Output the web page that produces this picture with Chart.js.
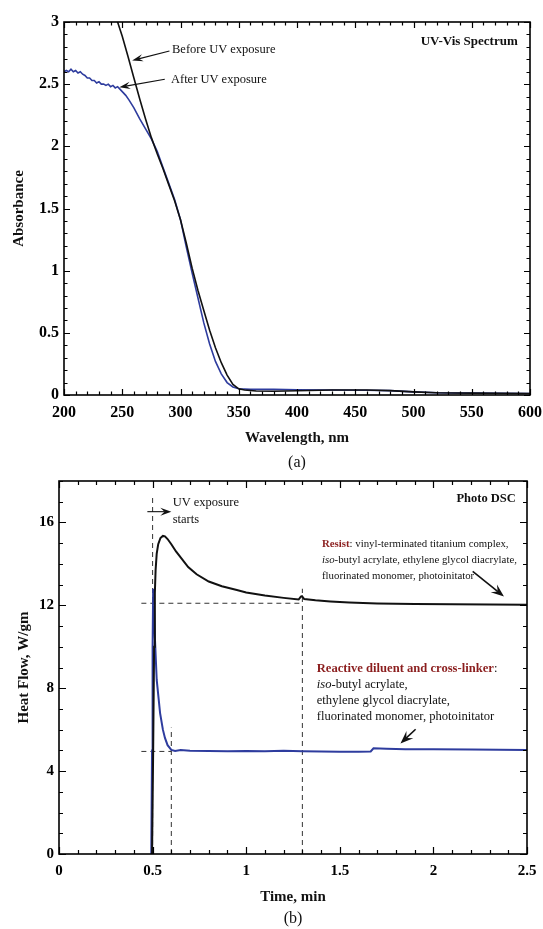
<!DOCTYPE html>
<html><head><meta charset="utf-8">
<script src="https://cdn.jsdelivr.net/npm/chart.js@4/dist/chart.umd.min.js"></script>
<style>
html,body{margin:0;padding:0;background:#fff;width:543px;height:929px;overflow:hidden}
canvas{position:absolute;left:0}
#c1{top:0}
#c2{top:470px}
</style></head><body>
<canvas id="c1" width="543" height="470" style="width:543px;height:470px"></canvas>
<canvas id="c2" width="543" height="459" style="width:543px;height:459px"></canvas>
<script>
// ---------------- (a) UV-Vis spectrum data ----------------
const uvBeforeWavelength = [240,246,250,255,260,265,270,275,280,285,290,295,300,305,310,315,320,325,330,335,340,345,350,355,365,380,400,430,460,480,500,520,550,600];
const uvBeforeAbsorbance = [3.22,3.00,2.885,2.72,2.55,2.38,2.22,2.07,1.94,1.82,1.69,1.56,1.41,1.22,1.02,0.84,0.68,0.52,0.38,0.26,0.16,0.085,0.05,0.04,0.032,0.030,0.034,0.040,0.040,0.035,0.025,0.018,0.015,0.012];
const uvAfterWavelength = [200,202,204,206,208,210,212,214,216,218,220,222,224,226,228,230,232,234,236,238,240,242,244,246,248,250,253,256,260,265,270,275,280,285,290,295,300,305,310,315,320,325,330,335,340,345,350,360,380,400,430,460,480,500,520,550,600];
const uvAfterAbsorbance = [2.60,2.61,2.60,2.62,2.60,2.61,2.59,2.60,2.58,2.57,2.55,2.55,2.53,2.53,2.51,2.52,2.50,2.50,2.49,2.50,2.48,2.49,2.47,2.48,2.46,2.44,2.41,2.37,2.31,2.22,2.14,2.06,1.96,1.83,1.70,1.57,1.41,1.19,0.98,0.78,0.58,0.41,0.27,0.17,0.10,0.065,0.05,0.045,0.045,0.042,0.040,0.038,0.035,0.025,0.018,0.015,0.012];
const uvXTicks = [200,250,300,350,400,450,500,550,600];
const uvYTicks = [0,0.5,1,1.5,2,2.5,3];
const uvYTickLabels = ['0','0.5','1','1.5','2','2.5','3'];

// ---------------- (b) Photo DSC data ----------------
const dscResistTime = [0.497,0.503,0.508,0.512,0.516,0.522,0.53,0.542,0.555,0.566,0.58,0.6,0.625,0.655,0.69,0.735,0.8,0.87,0.95,1.0,1.1,1.2,1.28,1.292,1.298,1.31,1.37,1.45,1.55,1.7,1.9,2.1,2.3,2.5];
const dscResistHeat = [0,5,10,12.6,13.7,14.5,14.95,15.25,15.35,15.33,15.2,14.95,14.6,14.25,13.85,13.5,13.15,12.92,12.74,12.62,12.47,12.36,12.28,12.42,12.44,12.3,12.24,12.19,12.14,12.09,12.06,12.05,12.04,12.03];
const dscReactiveTime = [0.493,0.497,0.5,0.503,0.507,0.512,0.522,0.54,0.555,0.566,0.58,0.6,0.62,0.65,0.7,0.8,0.9,1.0,1.1,1.2,1.3,1.4,1.5,1.6,1.665,1.68,1.75,1.85,2.0,2.2,2.35,2.5];
const dscReactiveHeat = [0,5,10,12.8,12.0,10.5,8.4,6.8,6.0,5.6,5.25,5.02,4.97,5.02,4.98,4.97,4.96,4.97,4.96,4.98,4.96,4.95,4.94,4.93,4.95,5.1,5.08,5.06,5.05,5.04,5.03,5.02];
const dscGuideX = [[0.5,0.5],[0.44,1.3],[1.3,1.3],[0.44,0.6],[0.6,0.6]];
const dscGuideY = [[0,17.2],[12.1,12.1],[0,12.8],[4.95,4.95],[0,6.1]];
const dscXTicks = [0,0.5,1,1.5,2,2.5];
const dscXTickLabels = ['0','0.5','1','1.5','2','2.5'];
const dscYTicks = [0,4,8,12,16];

const FONT = "'Liberation Serif','Times New Roman',serif";
const BLUE = '#2e3c9e';
const DARKRED = '#8b1e1e';
Chart.defaults.font.family = FONT;
Chart.defaults.color = '#000';

function pts(xs, ys){ return xs.map((x,i)=>({x:x, y:ys[i]})); }

function frameTicks(minorX, minorY, majLen, minLen){
  return {
    id:'frameTicks',
    afterDatasetsDraw(chart){
      const ctx = chart.ctx, a = chart.chartArea, xs = chart.scales.x, ys = chart.scales.y;
      const xMaj = xs.ticks.map(t=>t.value), yMaj = ys.ticks.map(t=>t.value);
      ctx.save();
      ctx.strokeStyle = '#000'; ctx.lineWidth = 1.2;
      const nX = Math.round((xs.max - xs.min)/minorX);
      for (let i=0;i<=nX;i++){
        const v = xs.min + i*minorX;
        const isMaj = xMaj.some(m=>Math.abs(m-v)<1e-6);
        const L = isMaj?majLen:minLen, p = Math.round(xs.getPixelForValue(v))+0.5;
        ctx.beginPath(); ctx.moveTo(p,a.bottom); ctx.lineTo(p,a.bottom-L);
        ctx.moveTo(p,a.top); ctx.lineTo(p,a.top+L); ctx.stroke();
      }
      const nY = Math.round((ys.max - ys.min)/minorY);
      for (let i=0;i<=nY;i++){
        const v = ys.min + i*minorY;
        const isMaj = yMaj.some(m=>Math.abs(m-v)<1e-6);
        const L = isMaj?majLen:minLen, p = Math.round(ys.getPixelForValue(v))+0.5;
        ctx.beginPath(); ctx.moveTo(a.left,p); ctx.lineTo(a.left+L,p);
        ctx.moveTo(a.right,p); ctx.lineTo(a.right-L,p); ctx.stroke();
      }
      ctx.lineWidth = 1.6;
      ctx.strokeRect(a.left, a.top, a.right-a.left, a.bottom-a.top);
      ctx.restore();
    }
  };
}

function drawArrow(ctx, x1,y1,x2,y2, len, half){
  const a = Math.atan2(y2-y1, x2-x1), c = Math.cos(a), s = Math.sin(a);
  ctx.beginPath(); ctx.moveTo(x1,y1); ctx.lineTo(x2-len*0.6*c, y2-len*0.6*s); ctx.stroke();
  const bx = x2-len*c, by = y2-len*s;
  ctx.beginPath(); ctx.moveTo(x2,y2);
  ctx.lineTo(bx+half*s, by-half*c);
  ctx.lineTo(x2-len*0.62*c, y2-len*0.62*s);
  ctx.lineTo(bx-half*s, by+half*c);
  ctx.closePath(); ctx.fill();
}

function richLine(ctx, x, y, parts){
  let cx = x;
  parts.forEach(p=>{
    ctx.font = p.font; ctx.fillStyle = p.color || '#111';
    ctx.fillText(p.text, cx, y);
    cx += ctx.measureText(p.text).width;
  });
}

// ---------------- chart (a) ----------------
const uvAnnot = {
  id:'uvAnnot',
  afterDraw(chart){
    const ctx = chart.ctx, xs = chart.scales.x, ys = chart.scales.y, a = chart.chartArea;
    const X = v=>xs.getPixelForValue(v), Y = v=>ys.getPixelForValue(v);
    ctx.save();
    ctx.fillStyle = '#111'; ctx.strokeStyle = '#111'; ctx.lineWidth = 1.1;
    ctx.textBaseline = 'middle';
    ctx.font = 'bold 13px ' + FONT; ctx.textAlign = 'right';
    ctx.fillText('UV-Vis Spectrum', X(589.5), Y(2.84));
    ctx.font = '12.5px ' + FONT; ctx.textAlign = 'left';
    ctx.fillText('Before UV exposure', X(292.7), Y(2.775));
    ctx.fillText('After UV exposure', X(291.8), Y(2.534));
    drawArrow(ctx, X(290.5), Y(2.767), X(258.5), Y(2.69), 11, 3.6);
    drawArrow(ctx, X(286.5), Y(2.54), X(247.5), Y(2.475), 11, 3.6);
    // axis titles
    ctx.textAlign = 'center';
    ctx.font = 'bold 15px ' + FONT;
    ctx.fillText('Wavelength, nm', (a.left+a.right)/2, 438);
    ctx.font = '16px ' + FONT;
    ctx.fillText('(a)', (a.left+a.right)/2, 463);
    ctx.save();
    ctx.translate(19, (a.top+a.bottom)/2); ctx.rotate(-Math.PI/2);
    ctx.font = 'bold 15px ' + FONT;
    ctx.fillText('Absorbance', 0, 0);
    ctx.restore();
    ctx.restore();
  }
};

new Chart(document.getElementById('c1'), {
  type:'line',
  data:{ datasets:[
    {label:'Before UV exposure', data:pts(uvBeforeWavelength, uvBeforeAbsorbance), borderColor:'#111', borderWidth:1.6, pointRadius:0, tension:0},
    {label:'After UV exposure', data:pts(uvAfterWavelength, uvAfterAbsorbance), borderColor:BLUE, borderWidth:1.6, pointRadius:0, tension:0}
  ]},
  options:{
    responsive:false, animation:false, events:[],
    layout:{padding:{top:22, right:13, left:0, bottom:0}},
    plugins:{legend:{display:false}, tooltip:{enabled:false}},
    scales:{
      x:{type:'linear', min:200, max:600,
        afterBuildTicks:s=>{ s.ticks = uvXTicks.map(v=>({value:v})); },
        afterFit:s=>{ s.height = 75; s.paddingLeft = 0; s.paddingRight = 0; },
        grid:{display:false, drawTicks:false}, border:{display:false},
        ticks:{font:{size:16, weight:'bold'}, color:'#000', padding:8, maxRotation:0, autoSkip:false, callback:v=>String(v)}},
      y:{type:'linear', min:0, max:3,
        afterBuildTicks:s=>{ s.ticks = uvYTicks.map(v=>({value:v})); },
        afterFit:s=>{ s.width = 64; s.paddingTop = 0; s.paddingBottom = 0; },
        grid:{display:false, drawTicks:false}, border:{display:false},
        ticks:{font:{size:16, weight:'bold'}, color:'#000', padding:5, autoSkip:false, callback:(v)=>uvYTickLabels[uvYTicks.indexOf(v)] ?? String(v)}}
    }
  },
  plugins:[frameTicks(10, 0.1, 6, 3.5), uvAnnot]
});

// ---------------- chart (b) ----------------
const dscAnnot = {
  id:'dscAnnot',
  afterDraw(chart){
    const ctx = chart.ctx, xs = chart.scales.x, ys = chart.scales.y, a = chart.chartArea;
    const X = v=>xs.getPixelForValue(v), Y = v=>ys.getPixelForValue(v);
    ctx.save();
    ctx.fillStyle = '#111'; ctx.strokeStyle = '#111'; ctx.lineWidth = 1.1;
    ctx.textBaseline = 'middle';
    ctx.font = 'bold 12.5px ' + FONT; ctx.textAlign = 'right';
    ctx.fillText('Photo DSC', X(2.44), Y(17.13));
    ctx.textAlign = 'left';
    ctx.font = '12.5px ' + FONT;
    ctx.fillText('UV exposure', X(0.607), Y(16.93));
    ctx.fillText('starts', X(0.607), Y(16.11));
    drawArrow(ctx, X(0.472), Y(16.52), X(0.6), Y(16.52), 11, 4);
    const R = '10.8px ' + FONT, B = 'bold 10.8px ' + FONT, I = 'italic 10.8px ' + FONT;
    richLine(ctx, X(1.405), Y(14.95), [{text:'Resist', font:B, color:DARKRED},{text:': vinyl-terminated titanium complex,', font:R}]);
    richLine(ctx, X(1.405), Y(14.17), [{text:'iso', font:I},{text:'-butyl acrylate, ethylene glycol diacrylate,', font:R}]);
    richLine(ctx, X(1.405), Y(13.39), [{text:'fluorinated monomer, photoinitator', font:R}]);
    const R2 = '12.6px ' + FONT, B2 = 'bold 12.6px ' + FONT, I2 = 'italic 12.6px ' + FONT;
    richLine(ctx, X(1.377), Y(8.95), [{text:'Reactive diluent and cross-linker', font:B2, color:DARKRED},{text:':', font:R2}]);
    richLine(ctx, X(1.377), Y(8.17), [{text:'iso', font:I2},{text:'-butyl acrylate,', font:R2}]);
    richLine(ctx, X(1.377), Y(7.39), [{text:'ethylene glycol diacrylate,', font:R2}]);
    richLine(ctx, X(1.377), Y(6.61), [{text:'fluorinated monomer, photoinitator', font:R2}]);
    ctx.lineWidth = 1.6;
    drawArrow(ctx, X(2.21), Y(13.64), X(2.377), Y(12.43), 13, 5);
    drawArrow(ctx, X(1.905), Y(6.02), X(1.824), Y(5.33), 13, 5);
    ctx.fillStyle = '#111';
    ctx.textAlign = 'center';
    ctx.font = 'bold 15px ' + FONT;
    ctx.fillText('Time, min', (a.left+a.right)/2, 427);
    ctx.font = '16px ' + FONT;
    ctx.fillText('(b)', (a.left+a.right)/2, 449);
    ctx.save();
    ctx.translate(24, (a.top+a.bottom)/2); ctx.rotate(-Math.PI/2);
    ctx.font = 'bold 15px ' + FONT;
    ctx.fillText('Heat Flow, W/gm', 0, 0);
    ctx.restore();
    ctx.restore();
  }
};

const guideSets = dscGuideX.map((gx,i)=>({label:'guide'+i, data:pts(gx, dscGuideY[i]), borderColor:'#333', borderWidth:1, borderDash:[5,4], pointRadius:0, tension:0}));

new Chart(document.getElementById('c2'), {
  type:'line',
  data:{ datasets:[
    {label:'Resist', data:pts(dscResistTime, dscResistHeat), borderColor:'#111', borderWidth:2, pointRadius:0, tension:0},
    {label:'Reactive diluent and cross-linker', data:pts(dscReactiveTime, dscReactiveHeat), borderColor:BLUE, borderWidth:2, pointRadius:0, tension:0}
  ].concat(guideSets)},
  options:{
    responsive:false, animation:false, events:[],
    layout:{padding:{top:11, right:16, left:0, bottom:0}},
    plugins:{legend:{display:false}, tooltip:{enabled:false}},
    scales:{
      x:{type:'linear', min:0, max:2.5,
        afterBuildTicks:s=>{ s.ticks = dscXTicks.map(v=>({value:v})); },
        afterFit:s=>{ s.height = 75; s.paddingLeft = 0; s.paddingRight = 0; },
        grid:{display:false, drawTicks:false}, border:{display:false},
        ticks:{font:{size:15, weight:'bold'}, color:'#000', padding:8, maxRotation:0, autoSkip:false, callback:v=>dscXTickLabels[dscXTicks.indexOf(v)] ?? String(v)}},
      y:{type:'linear', min:0, max:18,
        afterBuildTicks:s=>{ s.ticks = dscYTicks.map(v=>({value:v})); },
        afterFit:s=>{ s.width = 59; s.paddingTop = 0; s.paddingBottom = 0; },
        grid:{display:false, drawTicks:false}, border:{display:false},
        ticks:{font:{size:15, weight:'bold'}, color:'#000', padding:5, autoSkip:false, callback:v=>String(v)}}
    }
  },
  plugins:[frameTicks(0.1, 1, 7, 4), dscAnnot]
});
</script>
</body></html>
